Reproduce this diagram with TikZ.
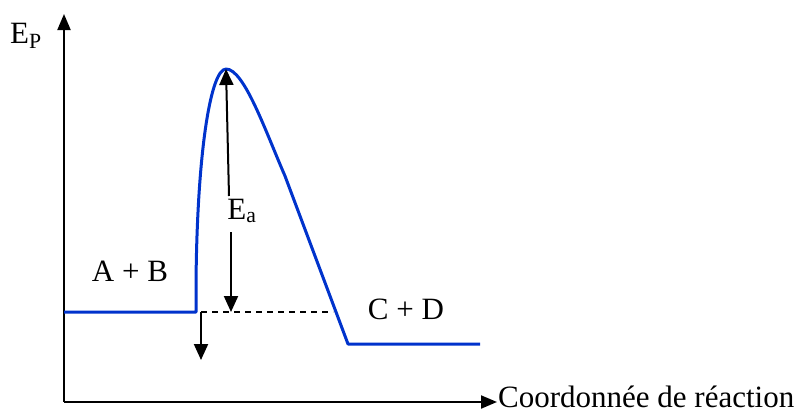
\documentclass[tikz,border=0pt]{standalone}
\usepackage{fontspec}
\setmainfont{Liberation Serif}
\usetikzlibrary{arrows.meta}
\begin{document}
\begin{tikzpicture}[x=1pt,y=-1pt,
  axis/.style={line width=2pt,-{Triangle[length=16pt,width=13pt]}},
  arr/.style={line width=2pt,-{Triangle[length=16pt,width=14pt]}},
  curve/.style={line width=3pt,draw={rgb,255:red,0;green,51;blue,204},line join=round},
  lbl/.style={font=\fontsize{31}{36}\selectfont,inner sep=0pt}]
\useasboundingbox (0,0) rectangle (804,413);
\coordinate (O) at (64,402);
\coordinate (Ytop) at (64,14);
\coordinate (Xend) at (497,402);
\coordinate (L0) at (64,312);
\coordinate (L1) at (196,312);
\coordinate (P) at (226,69);
\coordinate (R0) at (348,344);
\coordinate (R1) at (480,344);
\coordinate (Ebase) at (231,312);
\coordinate (Emid1) at (229,196);
\coordinate (Emid2) at (231,232);
\coordinate (Dend) at (333,312);
\coordinate (S0) at (201,312);
\coordinate (S1) at (201,360);
\draw[axis] (O) -- (Ytop);
\draw[axis] (O) -- (Xend);
\node[lbl,anchor=base west] (xl) at (498,407) {Coordonnée de réaction};
\node[lbl] (yl) at (26,36) {E\textsubscript{P}};
\draw[curve] (L0) -- (L1) -- (196,285) .. controls (197,150) and (211,69) .. (P)
  .. controls (244,69) and (265,130) .. (285,176) -- (R0) -- (R1);
\draw[line width=1.2pt,dashed,dash pattern=on 6pt off 5pt] (S0) -- (Dend);
\draw[arr] (Emid1) -- (P);
\draw[arr] (Emid2) -- (Ebase);
\draw[arr] (S0) -- (S1);
\node[lbl] (ea) at (242,211) {E\textsubscript{a}};
\node[lbl] (ab) at (130,271) {A + B};
\node[lbl] (cd) at (406,309) {C + D};
\end{tikzpicture}
\end{document}
